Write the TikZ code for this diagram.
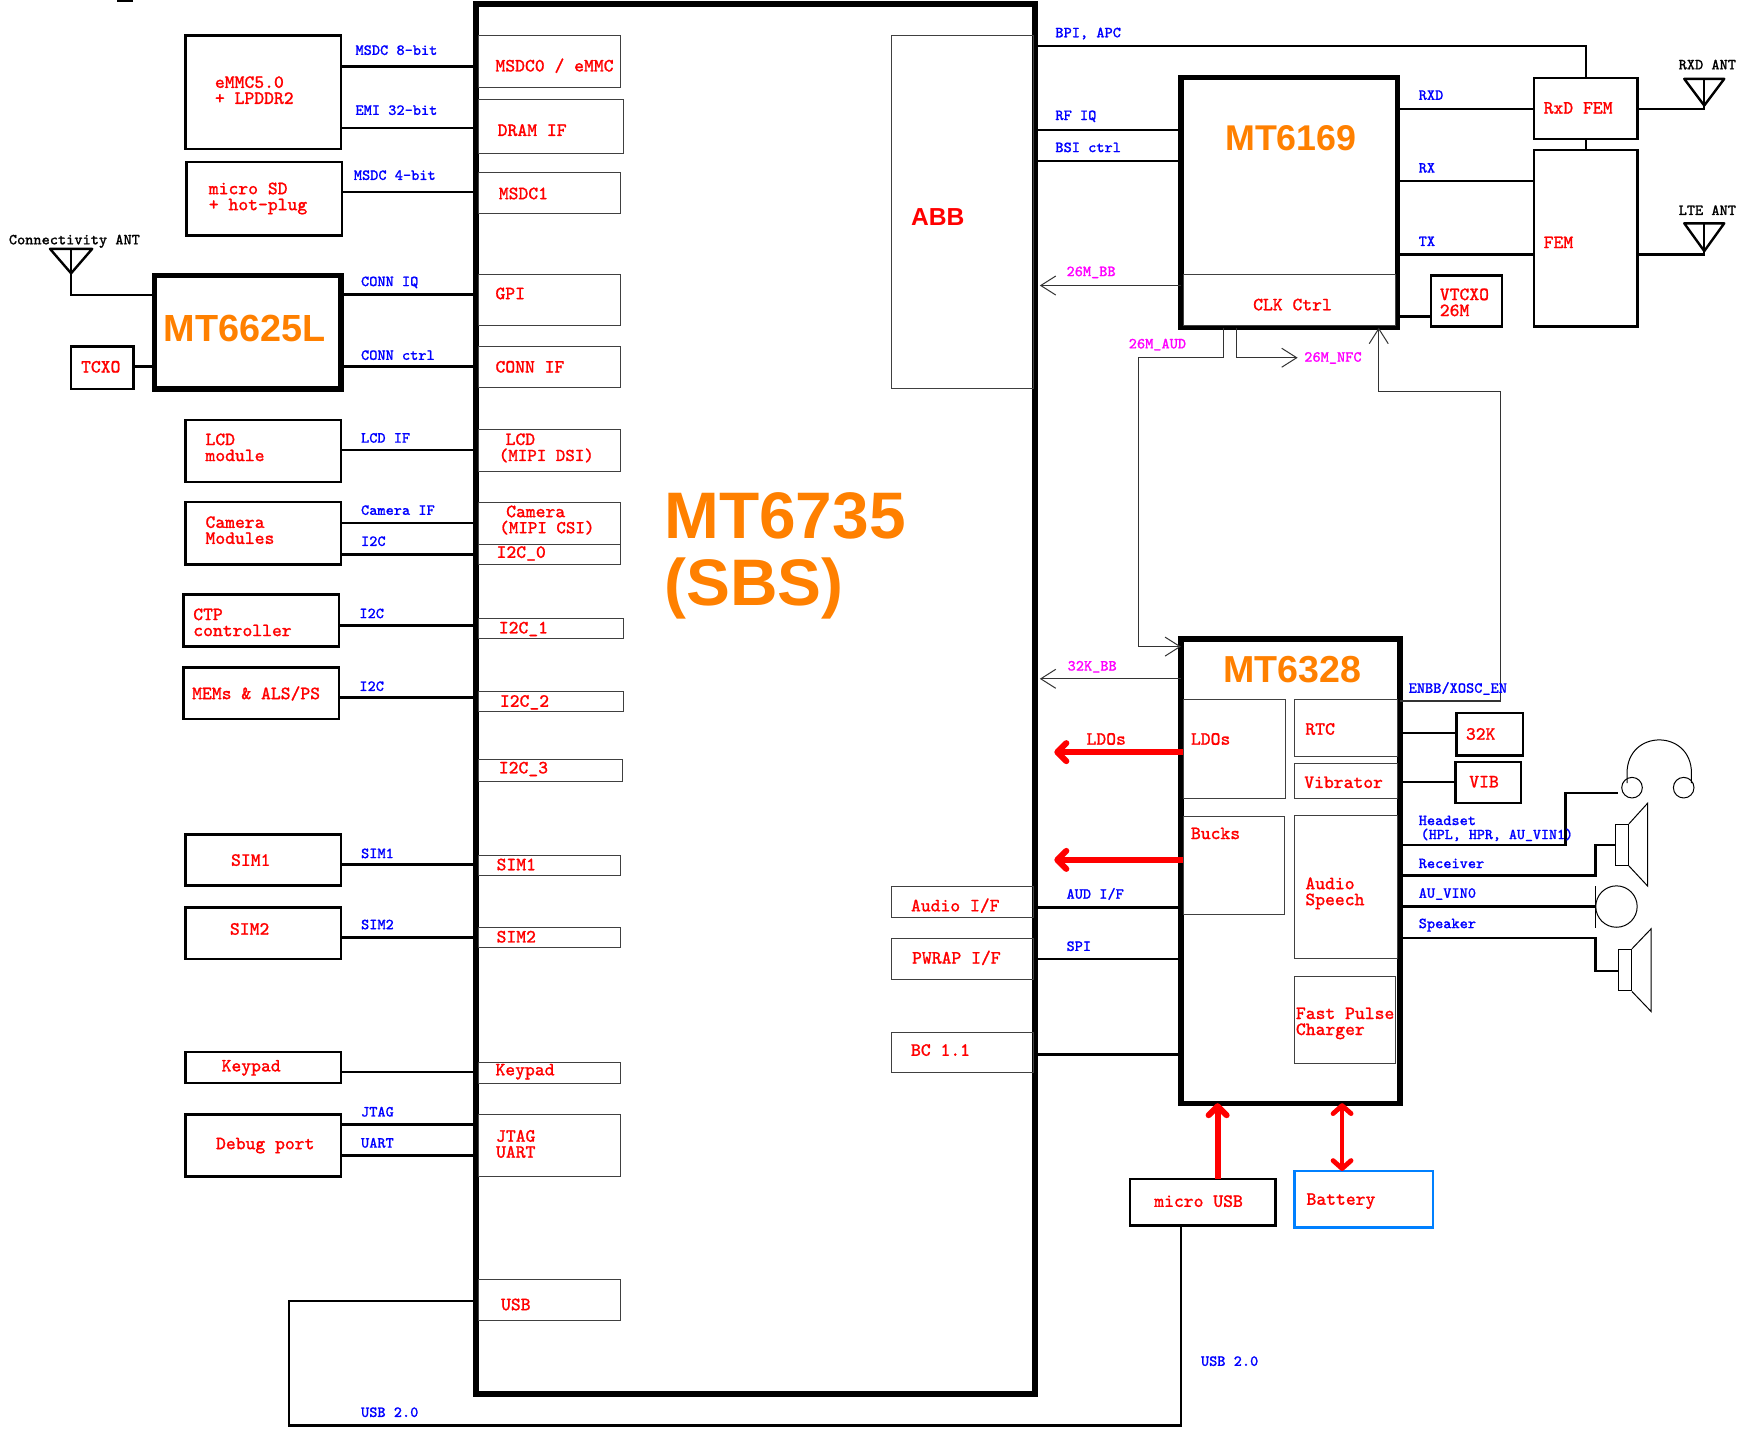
\documentclass[tikz,border=0pt]{standalone}
\usepackage{fontspec}
\newfontfamily\titlefont{Liberation Sans}
\newfontfamily\monoface[FakeBold=1.0]{Latin Modern Mono}
\usetikzlibrary{arrows.meta}
\definecolor{chiporange}{HTML}{FF8000}
\definecolor{batblue}{HTML}{0080FF}
\definecolor{sigblue}{HTML}{0000FF}
\definecolor{clkmag}{HTML}{FF00FF}
\tikzset{
  x=0.5555pt,y=-0.5555pt,
  chip/.style={draw=black,line width=2.7pt,inner sep=0pt,outer sep=0pt},
  mainchip/.style={draw=black,line width=3pt,inner sep=0pt,outer sep=0pt},
  extbox/.style={draw=black,line width=1.2pt,inner sep=0pt,outer sep=0pt},
  batbox/.style={draw=batblue,line width=1.2pt,inner sep=0pt,outer sep=0pt},
  inbox/.style={draw=black!75,line width=0.5pt,inner sep=0pt,outer sep=0pt},
  wire/.style={draw=black,line width=1.2pt,line join=miter},
  clkarrow/.style={draw=black!80,line width=0.55pt,-{Straight Barb[length=7.5pt,width=9.5pt,line width=0.5pt]}},
  powarrow/.style={draw=red,line width=3pt,-{Straight Barb[round,length=4.5pt,width=9pt]}},
  powboth/.style={draw=red,line width=2.4pt,{Straight Barb[round,length=4pt,width=9pt]}-{Straight Barb[round,length=4pt,width=9pt]}},
  drawn/.style={draw=black,line width=0.5pt},
  txt/.style={inner sep=0pt,outer sep=0pt,anchor=west,align=left},
  monotxt/.style={txt,yshift=-0.1pt},
  sig/.style={monotxt,text=sigblue,font=\monoface\fontsize{7.71}{7}\selectfont},
  clk/.style={monotxt,text=clkmag,font=\monoface\fontsize{7.71}{7}\selectfont},
  ant/.style={monotxt,text=black,font=\monoface\fontsize{7.71}{7}\selectfont},
  lab/.style={monotxt,text=red,font=\monoface\fontsize{9.37}{8}\selectfont},
  bigchip/.style={txt,text=chiporange,font=\titlefont\bfseries\fontsize{#1}{#1}\selectfont},
  bigcentre/.style={inner sep=0pt,outer sep=0pt,anchor=center,text=chiporange,font=\titlefont\bfseries\fontsize{#1}{#1}\selectfont},
  abbtext/.style={txt,text=red,font=\titlefont\bfseries\fontsize{12.3}{12.3}\selectfont},
}
\newcommand\bx[6]{%
  \pgfmathsetmacro\bxw{abs(#4-#2)*0.5555}%
  \pgfmathsetmacro\bxh{abs(#5-#3)*0.5555}%
  \node[#6,minimum width=\bxw pt,minimum height=\bxh pt] (#1) at ({(#2+#4)/2},{(#3+#5)/2}) {};}
\newcounter{lbn}
\newcommand\lb[4]{\stepcounter{lbn}\node[#3] (t\thelbn) at (#1,#2) {#4};}
\begin{document}
\begin{tikzpicture}
\useasboundingbox (0,0) rectangle (1568,1287);
\fill[white] (0,0) rectangle (1568,1287);
\fill[black] (105,0) rectangle (120,2);

% main chip and its inner blocks
\bx{main}{428.5}{3.5}{932}{1254.5}{mainchip}
\bx{iMSDC}{431}{32}{558.5}{79}{inbox}
\bx{iDRAM}{431}{90}{561}{138}{inbox}
\bx{iMSDCa}{431}{155}{558.5}{192}{inbox}
\bx{iGPI}{431}{247}{558.5}{293}{inbox}
\bx{iCONN}{431}{312}{558.5}{349}{inbox}
\bx{iLCD}{431}{387}{558.5}{424}{inbox}
\bx{iCAM}{431}{452}{558.5}{490}{inbox}
\bx{iIa}{431}{490}{558.5}{508}{inbox}
\bx{iIb}{431}{557}{561}{575}{inbox}
\bx{iIc}{431}{622}{561}{640}{inbox}
\bx{iId}{431}{684}{560}{703}{inbox}
\bx{iSIMa}{431}{770}{558.5}{788}{inbox}
\bx{iSIMb}{431}{835}{558.5}{853}{inbox}
\bx{iKEY}{431}{956}{558.5}{975}{inbox}
\bx{iJTAG}{431}{1003}{558.5}{1059}{inbox}
\bx{iUSB}{431}{1152}{558.5}{1189}{inbox}
\bx{iABB}{802}{32}{930}{349.5}{inbox}
\bx{iAUD}{802}{798}{930}{825.5}{inbox}
\bx{iPW}{802}{845}{930}{881.5}{inbox}
\bx{iBC}{802}{929}{930}{965.5}{inbox}

% left peripherals
\bx{emmc}{167}{32}{307}{134}{extbox}
\bx{sd}{168}{146}{308}{212}{extbox}
\bx{conn}{139}{248}{307}{350}{chip}
\bx{tcxo}{64}{312}{120}{350}{extbox}
\bx{lcd}{167}{378}{307}{434}{extbox}
\bx{cam}{167}{452}{307}{508}{extbox}
\bx{ctp}{165}{535}{305}{582}{extbox}
\bx{mems}{165}{601}{305}{647}{extbox}
\bx{sima}{167}{751}{307}{797}{extbox}
\bx{simb}{167}{817}{307}{863}{extbox}
\bx{keypad}{167}{947}{307}{975}{extbox}
\bx{debug}{167}{1003}{307}{1059}{extbox}

% RF side
\bx{rf}{1063}{70}{1258}{295}{chip}
\bx{clkctrl}{1065}{247}{1256}{293}{inbox}
\bx{rxd}{1381}{70}{1474}{125}{extbox}
\bx{fem}{1381}{135}{1474}{294}{extbox}
\bx{vtcxo}{1288}{248}{1352}{294}{extbox}

% PMIC
\bx{pmic}{1063}{575}{1260}{993}{chip}
\bx{pLDO}{1065}{630}{1157}{719}{inbox}
\bx{pRTC}{1165}{630}{1258}{681}{inbox}
\bx{pVIB}{1165}{687}{1258}{719}{inbox}
\bx{pBUCK}{1065}{735}{1156}{823}{inbox}
\bx{pAUD}{1165}{734}{1258}{863}{inbox}
\bx{pFAST}{1165}{879}{1256}{957}{inbox}
\bx{xtal}{1311}{642}{1371}{680}{extbox}
\bx{vib}{1310}{686}{1369}{723}{extbox}
\bx{usbconn}{1017}{1061}{1148}{1103}{extbox}
\bx{bat}{1165}{1054}{1290}{1105}{batbox}

% left wires
\draw[wire] (emmc.east |- 0,60) -- (main.west |- 0,60);
\draw[wire] (emmc.east |- 0,115) -- (main.west |- 0,115);
\draw[wire] (sd.east |- 0,173) -- (main.west |- 0,173);
\draw[wire] (conn.east |- 0,265) -- (main.west |- 0,265);
\draw[wire] (conn.east |- 0,330) -- (main.west |- 0,330);
\draw[wire] (tcxo.east |- 0,330) -- (conn.west |- 0,330);
\draw[wire] (lcd.east |- 0,405) -- (main.west |- 0,405);
\draw[wire] (cam.east |- 0,471) -- (main.west |- 0,471);
\draw[wire] (cam.east |- 0,499) -- (main.west |- 0,499);
\draw[wire] (ctp.east |- 0,563) -- (main.west |- 0,563);
\draw[wire] (mems.east |- 0,628) -- (main.west |- 0,628);
\draw[wire] (sima.east |- 0,778) -- (main.west |- 0,778);
\draw[wire] (simb.east |- 0,844) -- (main.west |- 0,844);
\draw[wire] (keypad.east |- 0,965) -- (main.west |- 0,965);
\draw[wire] (debug.east |- 0,1012) -- (main.west |- 0,1012);
\draw[wire] (debug.east |- 0,1040) -- (main.west |- 0,1040);
\draw[wire] (main.west |- 0,1171) -- (260,1171) -- (260,1283) -- (1063,1283) -- (usbconn.south -| 1063,0);

% right wires
\draw[wire] (main.east |- 0,41.5) -- (rxd.north |- 0,41.5) -- (rxd.north);
\draw[wire] (main.east |- 0,117) -- (rf.west |- 0,117);
\draw[wire] (main.east |- 0,145) -- (rf.west |- 0,145);
\draw[wire] (main.east |- 0,817) -- (pmic.west |- 0,817);
\draw[wire] (main.east |- 0,863) -- (pmic.west |- 0,863);
\draw[wire] (main.east |- 0,949) -- (pmic.west |- 0,949);
\draw[wire] (rf.east |- 0,98) -- (rxd.west |- 0,98);
\draw[wire] (rf.east |- 0,163) -- (fem.west |- 0,163);
\draw[wire] (rf.east |- 0,229) -- (fem.west |- 0,229);
\draw[wire] (rf.east |- 0,285) -- (vtcxo.west |- 0,285);
\draw[wire] (rxd.south) -- (fem.north);
\coordinate (rxdant) at (1534,98);
\coordinate (lteant) at (1534,229);
\draw[wire] (rxd.east |- rxdant) -- (rxdant) -- (1534,71);
\draw[wire] (fem.east |- lteant) -- (lteant) -- (1534,201);
\draw[wire,line join=round] (1516,71) -- (1552,71) -- (1534,95) -- cycle;
\draw[wire,line join=round] (1516,201) -- (1552,201) -- (1534,226) -- cycle;
\coordinate (connant) at (64,265.5);
\draw[wire] (conn.west |- connant) -- (connant) -- (64,224);
\draw[wire,line join=round] (45,224) -- (83,224) -- (64,246) -- cycle;

% clock and enable nets
\draw[clkarrow,shorten >=2.2pt] (rf.west |- 0,257) -- (main.east |- 0,257);
\draw[clkarrow] (rf.south -| 1101,0) -- (1101,322) -- (1025,322) -- (1025,582) -- (pmic.west |- 0,582);
\coordinate (nfc) at (1168,322);
\draw[clkarrow] (rf.south -| 1113,0) -- (1113,322) -- (nfc);
\draw[clkarrow] (pmic.east |- 0,631) -- (1351,631) -- (1351,352) -- (1241,352) -- (rf.south -| 1241,0);
\draw[clkarrow,shorten >=2.2pt] (pmic.west |- 0,611) -- (main.east |- 0,611);

% power
\coordinate (ldoend) at (949,677);
\coordinate (buckend) at (949,774);
\draw[powarrow] (pLDO.west |- ldoend) -- (ldoend);
\draw[powarrow] (pBUCK.west |- buckend) -- (buckend);
\draw[powarrow] (usbconn.north -| 1096,0) -- (pmic.south -| 1096,0);
\draw[powboth] (bat.north -| 1208,0) -- (pmic.south -| 1208,0);

% audio hardware
\node[circle,drawn,inner sep=0pt,outer sep=0pt,minimum size=10.3pt] (earl) at (1469,709) {};
\node[circle,drawn,inner sep=0pt,outer sep=0pt,minimum size=10.3pt] (earr) at (1515.5,709) {};
\draw[drawn] (1464.5,705) -- (1464.5,696) .. controls (1464.5,656) and (1522.5,656) .. (1522.5,696) -- (1522.5,705);
\bx{spka}{1455}{742}{1464.5}{779}{drawn}
\draw[drawn] (spka.north east) -- (1483,723) -- (1483,797.5) -- (spka.south east);
\node[circle,drawn,inner sep=0pt,outer sep=0pt,minimum size=20.7pt] (mic) at (1455,816) {};
\draw[drawn] (mic.west |- 0,797.5) -- (mic.west |- 0,835.5);
\bx{spkb}{1457.6}{854.5}{1467.3}{892}{drawn}
\draw[drawn] (spkb.north east) -- (1486.2,836) -- (1486.2,910.5) -- (spkb.south east);

\draw[wire] (pmic.east |- 0,660) -- (xtal.west |- 0,660);
\draw[wire] (pmic.east |- 0,704) -- (vib.west |- 0,704);
\draw[wire,shorten >=2pt] (pmic.east |- 0,760.5) -- (1409,760.5) -- (1409,714) -- (earl.west |- 0,714);
\draw[wire] (pmic.east |- 0,788) -- (1436,788) -- (1436,760.5) -- (spka.west |- 0,760.5);
\draw[wire] (pmic.east |- 0,816) -- (mic.west);
\draw[wire] (pmic.east |- 0,844.5) -- (1436,844.5) -- (1436,874) -- (spkb.west |- 0,874);

% titles
\lb{598}{464}{bigchip=32.9}{MT6735}
\lb{598}{530}{bigchip=32.9}{(SBS)}
\node[bigcentre=18.9] (tconn) at (220,296) {MT6625L};
\node[bigcentre=17.9] (trf) at (1162,124) {MT6169};
\node[bigcentre=18.8] (tpmic) at (1163,603) {MT6328};
\lb{820}{195}{abbtext}{ABB}

% red block labels
\lb{193.5}{81}{lab}{eMMC5.0\\+ LPDDR2}
\lb{188}{178.5}{lab}{micro SD\\+ hot-plug}
\lb{73}{330}{lab}{TCXO}
\lb{185}{402.5}{lab}{LCD\\module}
\lb{185}{477}{lab}{Camera\\Modules}
\lb{174}{560}{lab}{CTP\\controller}
\lb{173}{624}{lab}{MEMs \& ALS/PS}
\lb{208}{774}{lab}{SIM1}
\lb{207}{836}{lab}{SIM2}
\lb{199.5}{961}{lab}{Keypad}
\lb{194.5}{1031}{lab}{Debug port}
\lb{446}{59}{lab}{MSDC0 / eMMC}
\lb{448}{117}{lab}{DRAM IF}
\lb{449}{174}{lab}{MSDC1}
\lb{446}{264}{lab}{GPI}
\lb{446}{330}{lab}{CONN IF}
\lb{449}{403}{lab}{\hspace*{3.4pt}LCD\\\fontsize{9.05}{8}\selectfont (MIPI DSI)}
\lb{449.5}{468}{lab}{\hspace*{3.4pt}Camera\\\fontsize{9.05}{8}\selectfont (MIPI CSI)}
\lb{447}{498}{lab}{I2C\_0}
\lb{449}{566}{lab}{I2C\_1}
\lb{450}{632}{lab}{I2C\_2}
\lb{449}{692}{lab}{I2C\_3}
\lb{447}{778}{lab}{SIM1}
\lb{447}{843}{lab}{SIM2}
\lb{446}{964.5}{lab}{Keypad}
\lb{446.5}{1029.5}{lab}{JTAG\\UART}
\lb{451}{1174}{lab}{USB}
\lb{820}{815}{lab}{Audio I/F}
\lb{821}{862}{lab}{PWRAP I/F}
\lb{820}{945}{lab}{BC 1.1}
\lb{1128}{274}{lab}{CLK Ctrl}
\lb{978}{665}{lab}{LDOs}
\lb{1072}{665}{lab}{LDOs}
\lb{1072}{750}{lab}{Bucks}
\lb{1175}{656}{lab}{RTC}
\lb{1174}{704}{lab}{Vibrator}
\lb{1175}{804}{lab}{Audio\\Speech}
\lb{1166.5}{921}{lab}{Fast Pulse\\Charger}
\lb{1389.5}{97}{lab}{RxD FEM}
\lb{1389.5}{218}{lab}{FEM}
\lb{1296}{272}{lab}{VTCXO\\26M}
\lb{1319.5}{660.5}{lab}{32K}
\lb{1322.5}{703.5}{lab}{VIB}
\lb{1039}{1081}{lab}{micro USB}
\lb{1176}{1081}{lab}{Battery}

% blue signal labels
\lb{320}{45}{sig}{MSDC 8-bit}
\lb{320}{99}{sig}{EMI 32-bit}
\lb{318.5}{157.5}{sig}{MSDC 4-bit}
\lb{325}{254}{sig}{CONN IQ}
\lb{325}{319.5}{sig}{CONN ctrl}
\lb{325}{394}{sig}{LCD IF}
\lb{325}{459}{sig}{Camera IF}
\lb{325}{487}{sig}{I2C}
\lb{323.5}{552}{sig}{I2C}
\lb{323.5}{617.5}{sig}{I2C}
\lb{325}{768}{sig}{SIM1}
\lb{325}{832}{sig}{SIM2}
\lb{325}{1000.5}{sig}{JTAG}
\lb{325}{1028.5}{sig}{UART}
\lb{325}{1271}{sig}{USB 2.0}
\lb{1081}{1225}{sig}{USB 2.0}
\lb{950}{30}{sig}{BPI, APC}
\lb{950}{104.5}{sig}{RF IQ}
\lb{950}{132.5}{sig}{BSI ctrl}
\lb{960}{804.5}{sig}{AUD I/F}
\lb{960}{851.5}{sig}{SPI}
\lb{1277}{85.5}{sig}{RXD}
\lb{1277}{151}{sig}{RX}
\lb{1277}{217}{sig}{TX}
\lb{1268}{619.5}{sig}{ENBB/XOSC\_EN}
\lb{1277}{745.5}{sig}{Headset\\\fontsize{7.55}{7}\selectfont\hspace*{1pt}(HPL, HPR, AU\_VIN1)}
\lb{1277}{777}{sig}{Receiver}
\lb{1277}{804.5}{sig}{AU\_VIN0}
\lb{1277}{832.5}{sig}{Speaker}

% clock labels
\lb{960}{245}{clk}{26M\_BB}
\lb{1016}{310}{clk}{26M\_AUD}
\lb{1174}{322}{clk}{26M\_NFC}
\lb{961}{600}{clk}{32K\_BB}

% antenna labels
\lb{8}{217}{ant}{Connectivity ANT}
\lb{1511}{58}{ant}{RXD ANT}
\lb{1511}{189}{ant}{LTE ANT}
\end{tikzpicture}
\end{document}
